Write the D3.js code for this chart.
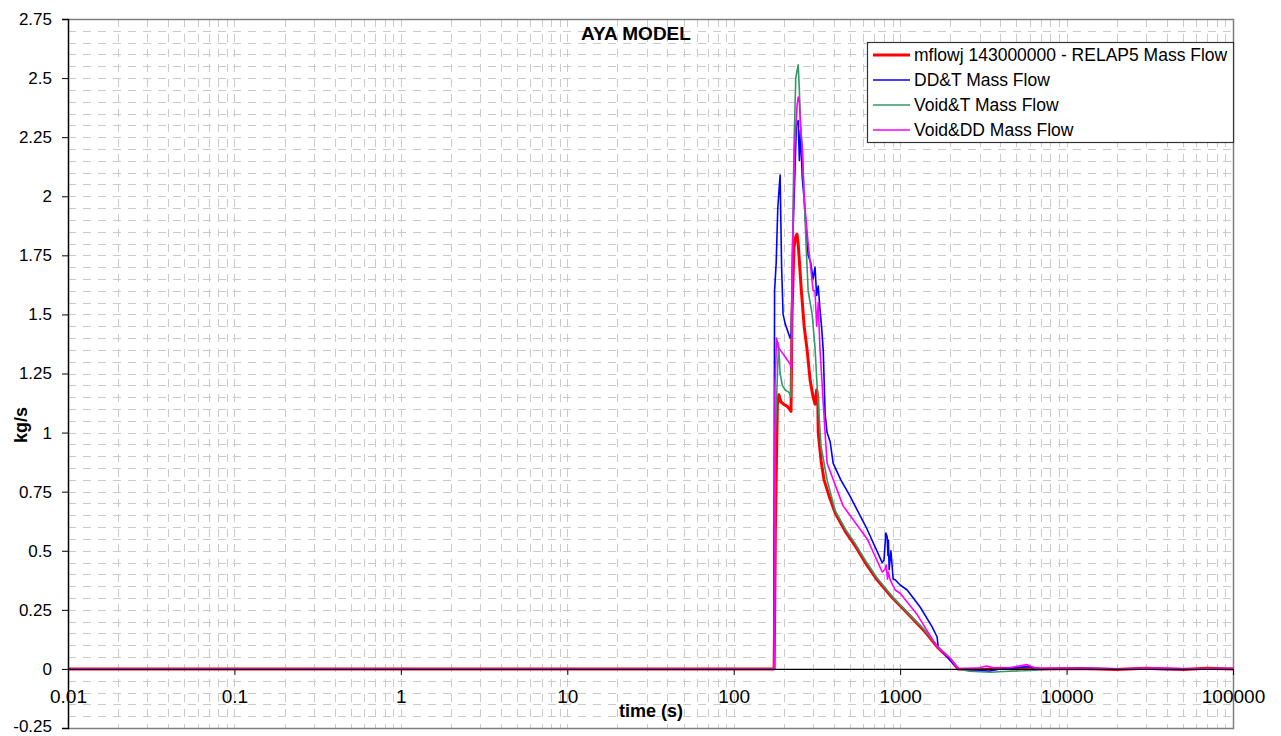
<!DOCTYPE html>
<html>
<head>
<meta charset="utf-8">
<script src="https://cdn.jsdelivr.net/npm/d3@7"></script>
<style>
  body { margin: 0; background: #fff; }
  text { font-family: "Liberation Sans", Arial, sans-serif; fill: #000; }
  .grid line { stroke: #cacaca; stroke-width: 1; stroke-dasharray: 8,7; }
  .series { fill: none; stroke-linejoin: round; }
</style>
</head>
<body>
<div id="chart"></div>
<script>
// chart values (time in s, mass flow in kg/s)
const title = "AYA MODEL";
const xTitle = "time (s)";
const yTitle = "kg/s";
const xTicks = [0.01, 0.1, 1, 10, 100, 1000, 10000, 100000];
const xTickLabels = ["0.01", "0.1", "1", "10", "100", "1000", "10000", "100000"];
const yTicks = [-0.25, 0, 0.25, 0.5, 0.75, 1, 1.25, 1.5, 1.75, 2, 2.25, 2.5, 2.75];
const yTickLabels = ["-0.25", "0", "0.25", "0.5", "0.75", "1", "1.25", "1.5", "1.75", "2", "2.25", "2.5", "2.75"];
const seriesNames = [
    "mflowj 143000000 - RELAP5 Mass Flow",
    "DD&T Mass Flow",
    "Void&T Mass Flow",
    "Void&DD Mass Flow"
];

const relap5 = [
    [0.01, 0], [175, 0], [178, 0.6], [183, 1.12], [187, 1.16], [192, 1.13], [200, 1.12],
    [210, 1.11], [216, 1.10], [221, 1.09], [224, 1.5], [230, 1.78], [236, 1.83], [240, 1.84],
    [244, 1.80], [255, 1.6], [265, 1.45], [276, 1.35], [288, 1.22], [300, 1.15], [308, 1.12],
    [315, 1.18], [320, 1.15], [322, 1.0], [335, 0.88], [349, 0.80], [375, 0.73], [407, 0.66],
    [470, 0.58], [537, 0.52], [630, 0.44], [727, 0.377], [900, 0.3], [1102, 0.237],
    [1400, 0.16], [1668, 0.093], [2000, 0.04], [2233, 0], [3000, -0.004], [4000, 0.003],
    [5000, 0], [6000, 0.005], [7000, 0], [12000, 0.002], [20000, -0.002], [30000, 0.003],
    [50000, -0.002], [70000, 0.003], [100000, 0]
];

const ddT = [
    [0.01, 0], [174, 0], [176, 1.6], [180, 1.72], [184, 1.95], [190, 2.09], [194, 1.7],
    [198, 1.5], [204, 1.46], [218, 1.40], [222, 1.42], [226, 1.8], [232, 2.05], [238, 2.3],
    [244, 2.32], [248, 2.15], [252, 2.28], [258, 2.08], [264, 2.0], [270, 1.9], [280, 1.75],
    [290, 1.72], [300, 1.65], [308, 1.7], [315, 1.58], [322, 1.62], [330, 1.52], [337, 1.45],
    [345, 1.35], [354, 1.08], [364, 1.0], [380, 0.96], [396, 0.87], [440, 0.8], [501, 0.73],
    [634, 0.59], [780, 0.45], [800, 0.46], [820, 0.575], [835, 0.56], [845, 0.48],
    [850, 0.545], [859, 0.42], [880, 0.5], [908, 0.38], [933, 0.377], [1000, 0.355],
    [1102, 0.334], [1318, 0.262], [1557, 0.178], [1668, 0.135], [1692, 0.093], [2233, 0],
    [3000, -0.005], [3400, -0.01], [4000, 0], [6000, 0.01], [6500, 0], [15000, 0.002],
    [40000, -0.002], [100000, 0]
];

const voidT = [
    [0.01, 0], [175, 0], [178, 1.0], [186, 1.38], [190, 1.25], [196, 1.2], [204, 1.18],
    [215, 1.17], [221, 1.15], [224, 1.6], [230, 2.2], [236, 2.5], [240, 2.53], [244, 2.556],
    [248, 2.45], [252, 2.3], [258, 2.21], [265, 2.0], [272, 1.8], [280, 1.6], [288, 1.55],
    [296, 1.5], [308, 1.36], [318, 1.18], [335, 0.94], [364, 0.80], [407, 0.67], [470, 0.59],
    [537, 0.53], [630, 0.45], [727, 0.385], [900, 0.305], [1102, 0.24], [1400, 0.165],
    [1668, 0.098], [2000, 0.045], [2233, 0], [2600, -0.01], [3500, -0.014], [4500, -0.01],
    [5500, -0.008], [6500, -0.005], [8000, 0], [100000, 0]
];

const voidDD = [
    [0.01, 0], [175, 0], [177, 1.2], [181, 1.4], [185, 1.36], [190, 1.35], [204, 1.32],
    [218, 1.29], [222, 1.27], [225, 1.7], [232, 2.2], [240, 2.38], [244, 2.42], [248, 2.4],
    [252, 2.3], [258, 2.2], [265, 2.0], [272, 1.9], [280, 1.8], [290, 1.7], [300, 1.6],
    [308, 1.6], [315, 1.45], [322, 1.55], [330, 1.35], [340, 1.2], [354, 1.0], [364, 0.87],
    [454, 0.69], [634, 0.55], [780, 0.41], [810, 0.42], [824, 0.44], [840, 0.38], [850, 0.41],
    [871, 0.377], [933, 0.334], [1000, 0.32], [1265, 0.23], [1668, 0.093], [2000, 0.045],
    [2233, 0], [3000, 0.005], [3300, 0.012], [3700, 0.004], [4500, 0.005], [5800, 0.018],
    [6500, 0.003], [10000, 0.003], [20000, 0.001], [35000, 0.004], [60000, 0.001],
    [100000, 0.003]
];

const seriesData = [relap5, ddT, voidT, voidDD];
const seriesColors = ["#ff0000", "#0000ff", "#339966", "#ff00ff"];
const seriesWidths = [3, 1.6, 1.6, 1.6];

// layout
const width = 1281, height = 736;
const plot = {left: 68, right: 1233, top: 19, bottom: 728};

let svg = d3.select("#chart").append("svg")
    .attr("width", width)
    .attr("height", height);

let x = d3.scaleLog().domain([0.01, 100000]).range([plot.left, plot.right]);
let y = d3.scaleLinear().domain([-0.25, 2.75]).range([plot.bottom, plot.top]);

// grid: minor log lines and every 0.05 horizontally
let xGridVals = [];
for (let e = -2; e < 5; e++) {
    for (let m = 1; m <= 9; m++) xGridVals.push(m * Math.pow(10, e));
}
xGridVals.push(100000);
let yGridVals = d3.range(-0.25, 2.7501, 0.05);

let grid = svg.append("g").attr("class", "grid");
grid.selectAll(".gx").data(xGridVals).join("line")
    .attr("class", "gx")
    .attr("x1", d => Math.round(x(d)) + 0.5).attr("x2", d => Math.round(x(d)) + 0.5)
    .attr("y1", plot.top).attr("y2", plot.bottom);
grid.selectAll(".gy").data(yGridVals).join("line")
    .attr("class", "gy")
    .attr("x1", plot.left).attr("x2", plot.right)
    .attr("y1", d => Math.round(y(d)) + 0.5).attr("y2", d => Math.round(y(d)) + 0.5);

// plot frame (top, right, bottom)
svg.append("path")
    .attr("d", `M${plot.left},${plot.top + 0.5}H${plot.right + 0.5}V${plot.bottom + 0.5}H${plot.left}`)
    .attr("fill", "none")
    .attr("stroke", "#808080")
    .attr("stroke-width", 1.5);

// series
let line = d3.line().x(d => x(d[0])).y(d => y(d[1]));
svg.append("g").selectAll("path")
    .data(seriesData)
    .join("path")
    .attr("class", "series")
    .attr("d", line)
    .attr("stroke", (d, i) => seriesColors[i])
    .attr("stroke-width", (d, i) => seriesWidths[i]);

// y axis
let yAxis = d3.axisLeft(y).tickValues(yTicks)
    .tickFormat((d, i) => yTickLabels[i]).tickSize(6).tickPadding(10);
let gy = svg.append("g").attr("transform", `translate(${plot.left},0)`).call(yAxis);
gy.select(".domain").attr("stroke", "#000").attr("stroke-width", 1.5);
gy.selectAll(".tick text").attr("font-size", 17).attr("font-family", "Liberation Sans, Arial, sans-serif")
    .attr("dy", (d) => d === -0.25 ? "0.2em" : "0.32em");

// x axis sits at zero
let xAxis = d3.axisBottom(x).tickValues(xTicks)
    .tickFormat((d, i) => xTickLabels[i]).tickSize(6).tickSizeOuter(0).tickPadding(15);
let gx = svg.append("g").attr("transform", `translate(0,${y(0)})`).call(xAxis);
gx.select(".domain").attr("stroke", "#000").attr("stroke-width", 1.2);
gx.selectAll(".tick text").attr("font-size", 19).attr("font-family", "Liberation Sans, Arial, sans-serif");

// titles
svg.append("text").attr("x", 636).attr("y", 40)
    .attr("text-anchor", "middle").attr("font-size", 19).attr("font-weight", "bold")
    .text(title);
svg.append("text").attr("x", 651).attr("y", 717)
    .attr("text-anchor", "middle").attr("font-size", 18).attr("font-weight", "bold")
    .text(xTitle);
svg.append("text").attr("transform", "translate(27,425) rotate(-90)")
    .attr("text-anchor", "middle").attr("font-size", 18).attr("font-weight", "bold")
    .text(yTitle);

// legend
let legend = svg.append("g").attr("transform", "translate(867,42)");
legend.append("rect")
    .attr("x", 0.5).attr("y", 0.5).attr("width", 366).attr("height", 100)
    .attr("fill", "#fff").attr("stroke", "#333").attr("stroke-width", 1.2);
let items = legend.selectAll(".item").data(seriesNames).join("g")
    .attr("class", "item")
    .attr("transform", (d, i) => `translate(0,${13 + i * 25})`);
items.append("line")
    .attr("x1", 6).attr("x2", 43)
    .attr("stroke", (d, i) => seriesColors[i])
    .attr("stroke-width", (d, i) => seriesWidths[i]);
items.append("text")
    .attr("x", 47).attr("dy", "0.35em")
    .attr("font-size", 17.5)
    .text(d => d);
</script>
</body>
</html>
